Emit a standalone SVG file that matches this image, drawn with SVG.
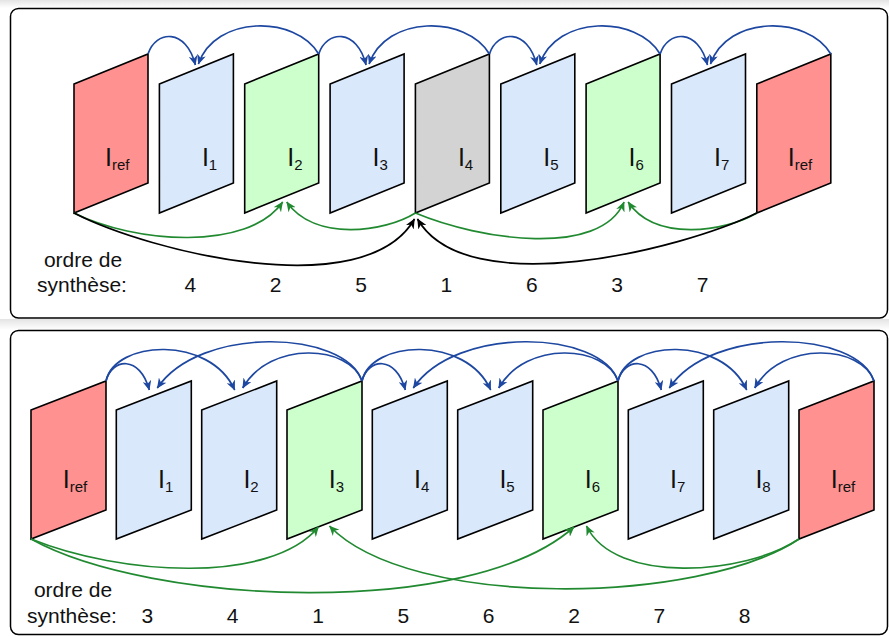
<svg xmlns="http://www.w3.org/2000/svg" width="889" height="636" viewBox="0 0 889 636">
<defs>
<linearGradient id="shade" x1="0" y1="0" x2="0" y2="1">
<stop offset="0" stop-color="#e4e4e4"/>
<stop offset="1" stop-color="#ffffff"/>
</linearGradient>
<marker id="ab" viewBox="0 0 10 9" refX="9.5" refY="4.5" markerWidth="10" markerHeight="9" orient="auto" markerUnits="userSpaceOnUse"><path d="M0,0 L10,4.5 L0,9 L3,4.5 Z" fill="#1d47a0"/></marker>
<marker id="ag" viewBox="0 0 10 9" refX="9.5" refY="4.5" markerWidth="10" markerHeight="9" orient="auto" markerUnits="userSpaceOnUse"><path d="M0,0 L10,4.5 L0,9 L3,4.5 Z" fill="#218a31"/></marker>
<marker id="ak" viewBox="0 0 10 9" refX="9.5" refY="4.5" markerWidth="10" markerHeight="9" orient="auto" markerUnits="userSpaceOnUse"><path d="M0,0 L10,4.5 L0,9 L3,4.5 Z" fill="#000000"/></marker>
</defs>
<style>
.panel{fill:#ffffff;stroke:#000;stroke-width:1.5}
.fr{stroke:#000;stroke-width:1.6;stroke-linejoin:miter}
.ref{fill:#ff9191}
.bl{fill:#dae8fc}
.gr{fill:#ccffcc}
.gy{fill:#d3d3d3}
.lbl{font-family:"Liberation Sans",Arial,sans-serif;font-size:25px;fill:#111}
.sub{font-size:15px}
.txt{font-family:"Liberation Sans",Arial,sans-serif;font-size:21px;fill:#111;text-anchor:middle}
.cb{fill:none;stroke:#1d47a0;stroke-width:1.7;marker-end:url(#ab)}
.cg{fill:none;stroke:#218a31;stroke-width:1.7;marker-end:url(#ag)}
.ck{fill:none;stroke:#000;stroke-width:1.7;marker-end:url(#ak)}
</style>
<rect x="0" y="0" width="889" height="636" fill="#ffffff"/>
<rect x="0" y="0" width="889" height="8" fill="url(#shade)"/>
<rect x="0" y="319" width="889" height="11" fill="url(#shade)"/>
<rect class="panel" x="10.5" y="8.5" width="877" height="309.5" rx="8"/>
<rect class="panel" x="10.5" y="330.5" width="877" height="304" rx="8"/>

<!-- top panel nodes -->
<g id="t-ref-l"><path class="fr ref" d="M74,84 L148,54 L148,183 L74,213 Z"/><text class="lbl" x="105" y="166">I<tspan class="sub" dy="4">ref</tspan></text></g>
<g id="t-i1"><path class="fr bl" d="M159.4,84 L233.4,54 L233.4,183 L159.4,213 Z"/><text class="lbl" x="201.9" y="166">I<tspan class="sub" dy="4">1</tspan></text></g>
<g id="t-i2"><path class="fr gr" d="M244.7,84 L318.7,54 L318.7,183 L244.7,213 Z"/><text class="lbl" x="287.2" y="166">I<tspan class="sub" dy="4">2</tspan></text></g>
<g id="t-i3"><path class="fr bl" d="M330.1,84 L404.1,54 L404.1,183 L330.1,213 Z"/><text class="lbl" x="372.6" y="166">I<tspan class="sub" dy="4">3</tspan></text></g>
<g id="t-i4"><path class="fr gy" d="M415.4,84 L489.4,54 L489.4,183 L415.4,213 Z"/><text class="lbl" x="457.9" y="166">I<tspan class="sub" dy="4">4</tspan></text></g>
<g id="t-i5"><path class="fr bl" d="M500.8,84 L574.8,54 L574.8,183 L500.8,213 Z"/><text class="lbl" x="543.3" y="166">I<tspan class="sub" dy="4">5</tspan></text></g>
<g id="t-i6"><path class="fr gr" d="M586.1,84 L660.1,54 L660.1,183 L586.1,213 Z"/><text class="lbl" x="628.6" y="166">I<tspan class="sub" dy="4">6</tspan></text></g>
<g id="t-i7"><path class="fr bl" d="M671.5,84 L745.5,54 L745.5,183 L671.5,213 Z"/><text class="lbl" x="714" y="166">I<tspan class="sub" dy="4">7</tspan></text></g>
<g id="t-ref-r"><path class="fr ref" d="M756.8,84 L830.8,54 L830.8,183 L756.8,213 Z"/><text class="lbl" x="787.8" y="166">I<tspan class="sub" dy="4">ref</tspan></text></g>

<!-- bottom panel nodes -->
<g id="b-ref-l"><path class="fr ref" d="M31,410 L106,381 L106,510 L31,539 Z"/><text class="lbl" x="62.7" y="488">I<tspan class="sub" dy="4">ref</tspan></text></g>
<g id="b-i1"><path class="fr bl" d="M116.3,410 L191.3,381 L191.3,510 L116.3,539 Z"/><text class="lbl" x="158" y="488">I<tspan class="sub" dy="4">1</tspan></text></g>
<g id="b-i2"><path class="fr bl" d="M201.7,410 L276.7,381 L276.7,510 L201.7,539 Z"/><text class="lbl" x="243.4" y="488">I<tspan class="sub" dy="4">2</tspan></text></g>
<g id="b-i3"><path class="fr gr" d="M287,410 L362,381 L362,510 L287,539 Z"/><text class="lbl" x="328.7" y="488">I<tspan class="sub" dy="4">3</tspan></text></g>
<g id="b-i4"><path class="fr bl" d="M372.3,410 L447.3,381 L447.3,510 L372.3,539 Z"/><text class="lbl" x="414" y="488">I<tspan class="sub" dy="4">4</tspan></text></g>
<g id="b-i5"><path class="fr bl" d="M457.7,410 L532.7,381 L532.7,510 L457.7,539 Z"/><text class="lbl" x="499.4" y="488">I<tspan class="sub" dy="4">5</tspan></text></g>
<g id="b-i6"><path class="fr gr" d="M543,410 L618,381 L618,510 L543,539 Z"/><text class="lbl" x="584.7" y="488">I<tspan class="sub" dy="4">6</tspan></text></g>
<g id="b-i7"><path class="fr bl" d="M628.3,410 L703.3,381 L703.3,510 L628.3,539 Z"/><text class="lbl" x="670" y="488">I<tspan class="sub" dy="4">7</tspan></text></g>
<g id="b-i8"><path class="fr bl" d="M713.7,410 L788.7,381 L788.7,510 L713.7,539 Z"/><text class="lbl" x="755.4" y="488">I<tspan class="sub" dy="4">8</tspan></text></g>
<g id="b-ref-r"><path class="fr ref" d="M799,410 L874,381 L874,510 L799,539 Z"/><text class="lbl" x="830.7" y="488">I<tspan class="sub" dy="4">ref</tspan></text></g>

<!-- connectors -->
<g id="connectors">
<path class="cb" d="M148,54 C156,30 186,28 195.4,65"/>
<path class="cb" d="M318.7,54 C295.7,15 215,15 198.4,64"/>
<path class="cb" d="M318.7,54 C326.7,30 356.7,28 366.1,65"/>
<path class="cb" d="M489.4,54 C466.4,15 385.7,15 369.1,64"/>
<path class="cb" d="M489.4,54 C497.4,30 527.4,28 536.8,65"/>
<path class="cb" d="M660.1,54 C637.1,15 556.4,15 539.8,64"/>
<path class="cb" d="M660.1,54 C668.1,30 698.1,28 707.5,65"/>
<path class="cb" d="M830.8,54 C807.8,15 727.1,15 710.5,64"/>

<path class="cg" d="M74,213 C134,243 248,252 282.7,202"/>
<path class="cg" d="M415.4,213 C385,232 315,242 286.7,202"/>
<path class="cg" d="M415.4,213 C480,240 600,258 624.1,202"/>
<path class="cg" d="M756.8,213 C725,232 655,242 628.1,202"/>

<path class="ck" d="M74,213 C150,252 365,305 414.5,219"/>
<path class="ck" d="M756.8,213 C681,250 466,303 417.5,219"/>

<path class="cb" d="M106,381 C112,358 140,355 149.3,390"/>
<path class="cb" d="M106,381 C115,340 210,335 234.7,390"/>
<path class="cb" d="M362,381 C350,345 270,340 242.7,388"/>
<path class="cb" d="M362,381 C345,330 200,325 157.3,388"/>
<path class="cb" d="M362,381 C368,358 396,355 405.3,390"/>
<path class="cb" d="M362,381 C371,340 466,335 490.7,390"/>
<path class="cb" d="M618,381 C606,345 526,340 498.7,388"/>
<path class="cb" d="M618,381 C601,330 456,325 413.3,388"/>
<path class="cb" d="M618,381 C624,358 652,355 661.3,390"/>
<path class="cb" d="M618,381 C627,340 722,335 746.7,390"/>
<path class="cb" d="M874,381 C862,345 782,340 754.7,388"/>
<path class="cb" d="M874,381 C857,330 712,325 669.3,388"/>

<path class="cg" d="M31,539 C120,575 270,585 318.5,527"/>
<path class="cg" d="M31,539 C150,605 470,620 574,527"/>
<path class="cg" d="M799,539 C745,575 615,585 586.5,526"/>
<path class="cg" d="M799,539 C700,605 410,610 329.5,526"/>
</g>

<!-- texts -->
<g id="t-order">
<text class="txt" x="83" y="267">ordre de</text>
<text class="txt" x="82" y="292">synthèse:</text>
<text class="txt" x="190.4" y="292">4</text>
<text class="txt" x="275.7" y="292">2</text>
<text class="txt" x="361.1" y="292">5</text>
<text class="txt" x="446.4" y="292">1</text>
<text class="txt" x="531.8" y="292">6</text>
<text class="txt" x="617.1" y="292">3</text>
<text class="txt" x="702.5" y="292">7</text>
</g>
<g id="b-order">
<text class="txt" x="73" y="597">ordre de</text>
<text class="txt" x="72" y="623">synthèse:</text>
<text class="txt" x="147.3" y="623">3</text>
<text class="txt" x="232.7" y="623">4</text>
<text class="txt" x="318" y="623">1</text>
<text class="txt" x="403.3" y="623">5</text>
<text class="txt" x="488.7" y="623">6</text>
<text class="txt" x="574" y="623">2</text>
<text class="txt" x="659.3" y="623">7</text>
<text class="txt" x="744.7" y="623">8</text>
</g>
</svg>
